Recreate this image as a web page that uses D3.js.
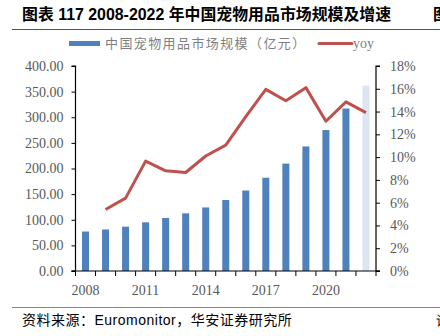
<!DOCTYPE html>
<html><head><meta charset="utf-8">
<script src="https://cdn.jsdelivr.net/npm/d3@7"></script>
<style>body{margin:0;background:#fff}svg{display:block}</style>
</head><body><svg id="c" width="440" height="336"></svg>
<script>
const years = [2008,2009,2010,2011,2012,2013,2014,2015,2016,2017,2018,2019,2020,2021,2022];
const marketSize = [77,81,86.5,95,103.5,112.5,124,138.5,157,182,209.5,243,275,317,362];
const yoy = [null,5.4,6.4,9.65,8.8,8.65,10.1,11.05,13.55,15.95,14.95,16.1,13.15,14.85,13.9];
const leftTicks = [0,50,100,150,200,250,300,350,400];
const rightTicks = [0,2,4,6,8,10,12,14,16,18];
const xLabelYears = [2008,2011,2014,2017,2020];

const svg = d3.select("#c");
const L = 75.5, R = 376, T = 66, B = 271;
const x = d3.scaleBand().domain(years).range([L, R]);
const yL = d3.scaleLinear().domain([0,400]).range([B, T]);
const yR = d3.scaleLinear().domain([0,18]).range([B, T]);
const serif = "'Liberation Serif','Times New Roman',serif";
const cjk = "'Noto Sans CJK SC',sans-serif";

// title
svg.append("text").attr("x",22).attr("y",20).attr("font-family","'Liberation Sans','Noto Sans CJK SC',sans-serif")
  .attr("font-weight","bold").attr("font-size",15.9).attr("fill","#000")
  .text("图表 117 2008-2022 年中国宠物用品市场规模及增速");
svg.append("text").attr("x",433).attr("y",20).attr("font-family",cjk).attr("font-weight","bold").attr("font-size",15.9).text("图");
svg.append("line").attr("x1",12).attr("x2",440).attr("y1",29.5).attr("y2",29.5).attr("stroke","#555").attr("stroke-width",1);

// legend
svg.append("rect").attr("x",69).attr("y",41).attr("width",31).attr("height",5).attr("fill","#4F81BD");
svg.append("text").attr("x",105).attr("y",48).attr("font-family",cjk).attr("font-size",13).attr("letter-spacing",1.4).attr("fill","#7f7f7f")
  .text("中国宠物用品市场规模（亿元）");
svg.append("line").attr("x1",319).attr("x2",352).attr("y1",43.5).attr("y2",43.5).attr("stroke","#C0504D").attr("stroke-width",3).attr("stroke-linecap","round");
svg.append("text").attr("x",353).attr("y",48).attr("font-family",serif).attr("font-size",14).attr("fill","#7f7f7f").text("yoy");

// bars
const bw = 7;
svg.append("g").selectAll("rect").data(years).join("rect")
  .attr("x", d => x(d) + x.bandwidth()/2 - bw/2)
  .attr("y", (d,i) => yL(marketSize[i]))
  .attr("width", bw)
  .attr("height", (d,i) => B - yL(marketSize[i]))
  .attr("fill", (d,i) => i === years.length-1 ? "#DCE6F2" : "#4F81BD");

// line
const line = d3.line().defined(d => d[1] !== null)
  .x(d => x(d[0]) + x.bandwidth()/2).y(d => yR(d[1]));
svg.append("path").datum(years.map((y,i)=>[y,yoy[i]]))
  .attr("d", line).attr("fill","none").attr("stroke","#C0504D").attr("stroke-width",3).attr("stroke-linejoin","round");

// axes
const gl = svg.append("g").attr("transform",`translate(${L},0)`)
  .call(d3.axisLeft(yL).tickValues(leftTicks).tickFormat(d3.format(".2f")).tickSize(4).tickPadding(8));
const gr = svg.append("g").attr("transform",`translate(${R},0)`)
  .call(d3.axisRight(yR).tickValues(rightTicks).tickFormat(d => d + "%").tickSize(4).tickPadding(10));
[gl, gr].forEach(g => {
  g.select(".domain").attr("stroke","#000").attr("stroke-width",1.2);
  g.selectAll(".tick line").attr("stroke","#000");
  g.selectAll(".tick text").attr("font-family",serif).attr("font-size",14).attr("fill","#595959");
});
gl.select(".domain").attr("d",`M-4,${T}H0V${B}H-4`);
gr.select(".domain").attr("d",`M4,${T}H0V${B}H4`);

// x axis
const gx = svg.append("g");
gx.append("line").attr("x1",L-4).attr("x2",R+4).attr("y1",B).attr("y2",B).attr("stroke","#000").attr("stroke-width",1.2);
gx.selectAll("line.t").data(d3.range(years.length+1)).join("line").attr("class","t")
  .attr("x1", i => L + i*x.step()).attr("x2", i => L + i*x.step())
  .attr("y1", B).attr("y2", B+5).attr("stroke","#000");
gx.selectAll("text").data(xLabelYears).join("text")
  .attr("x", d => x(d) + x.bandwidth()/2).attr("y", 295).attr("text-anchor","middle")
  .attr("font-family",serif).attr("font-size",14).attr("fill","#595959").text(d => d);

// source
svg.append("line").attr("x1",12).attr("x2",440).attr("y1",307.5).attr("y2",307.5).attr("stroke","#888").attr("stroke-width",1.2);
svg.append("text").attr("x",22).attr("y",325).attr("font-family","'Liberation Sans','Noto Sans CJK SC',sans-serif")
  .attr("font-size",14).attr("letter-spacing",0.5).attr("fill","#000").text("资料来源：Euromonitor，华安证券研究所");
svg.append("text").attr("x",436).attr("y",325).attr("font-family",cjk).attr("font-size",13).text("请");
</script></body></html>
